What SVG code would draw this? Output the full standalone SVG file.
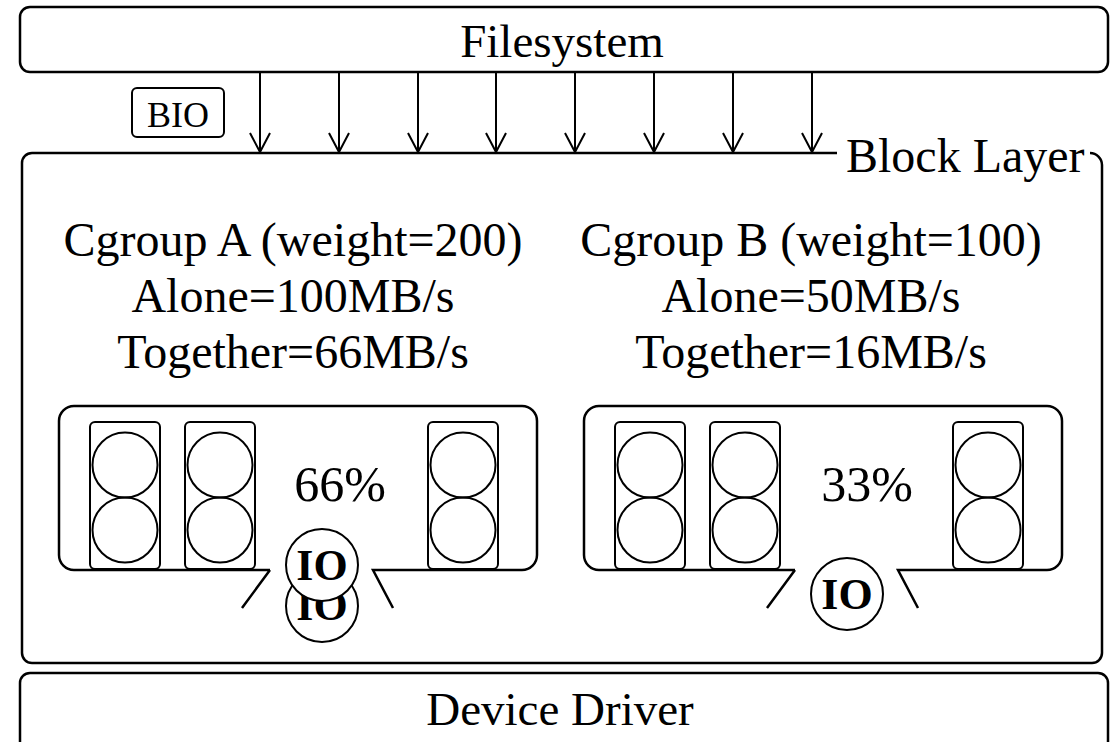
<svg xmlns="http://www.w3.org/2000/svg" width="1115" height="742" viewBox="0 0 1115 742">
<style>
text{font-family:"Liberation Serif","Times New Roman",serif;fill:#000}
.big{font-size:47px;text-anchor:middle}
.cg{font-size:48px;text-anchor:middle}
.pct{font-size:50px;text-anchor:middle}
.io{font-size:44px;font-weight:bold;text-anchor:middle}
.box{fill:none;stroke:#000;stroke-width:2.5}
.lane{fill:none;stroke:#000;stroke-width:2}
.c{fill:none;stroke:#000;stroke-width:2}
.ioc{fill:#fff;stroke:#000;stroke-width:2}
.arr{stroke:#000;stroke-width:2;fill:none;marker-end:url(#v)}
</style>
<defs>
<marker id="v" markerUnits="userSpaceOnUse" markerWidth="30" markerHeight="30" refX="0" refY="0" orient="auto" overflow="visible">
<path d="M -19 -10 L 0 0 L -19 10" fill="none" stroke="#000" stroke-width="2"/>
</marker>
<g id="lane">
<rect x="0" y="0" width="70" height="147" rx="5" class="lane"/>
<circle cx="35" cy="43" r="32.5" class="c"/>
<circle cx="35" cy="108" r="32.5" class="c"/>
</g>
</defs>
<g id="filesystem">
<rect x="20" y="7" width="1088" height="65" rx="10" class="box"/>
<text x="562" y="57" class="big">Filesystem</text>
</g>
<g id="bio">
<rect x="132" y="88" width="92" height="49" rx="5" class="lane"/>
<text x="178" y="127" style="font-size:36px;text-anchor:middle">BIO</text>
</g>
<g id="block-layer">
<path d="M 837 153 H 32 A 10 10 0 0 0 22 163 V 653 A 10 10 0 0 0 32 663 H 1092 A 10 10 0 0 0 1102 653 V 165 A 12 12 0 0 0 1090 153" class="box"/>
<text x="846" y="172" style="font-size:48px">Block Layer</text>
</g>
<g id="cgroup-a">
<text x="293" y="256" class="cg">Cgroup A (weight=200)</text>
<text x="293" y="312" class="cg">Alone=100MB/s</text>
<text x="293" y="368" class="cg">Together=66MB/s</text>
<path d="M 270 570 H 74 A 15 15 0 0 1 59 555 V 421 A 15 15 0 0 1 74 406 H 522 A 15 15 0 0 1 537 421 V 555 A 15 15 0 0 1 522 570 H 373 L 393 608 M 270 570 L 242 608" class="box"/>
<use href="#lane" x="90" y="422"/>
<use href="#lane" x="185" y="422"/>
<use href="#lane" x="428" y="422"/>
<text x="340" y="501" class="pct">66%</text>
<circle cx="322" cy="606" r="36" class="ioc"/>
<text x="322" y="620" class="io">IO</text>
<circle cx="322" cy="565" r="36" class="ioc"/>
<text x="322" y="580" class="io">IO</text>
</g>
<g id="cgroup-b">
<text x="811" y="256" class="cg">Cgroup B (weight=100)</text>
<text x="811" y="312" class="cg">Alone=50MB/s</text>
<text x="811" y="368" class="cg">Together=16MB/s</text>
<path d="M 795 570 H 599 A 15 15 0 0 1 584 555 V 421 A 15 15 0 0 1 599 406 H 1047 A 15 15 0 0 1 1062 421 V 555 A 15 15 0 0 1 1047 570 H 898 L 918 608 M 795 570 L 767 608" class="box"/>
<use href="#lane" x="615" y="422"/>
<use href="#lane" x="710" y="422"/>
<use href="#lane" x="953" y="422"/>
<text x="867" y="501" class="pct">33%</text>
<circle cx="847" cy="594" r="36" class="ioc"/>
<text x="847" y="609" class="io">IO</text>
</g>
<g id="device-driver">
<rect x="20" y="673" width="1088" height="80" rx="10" class="box"/>
<text x="560" y="725" class="big">Device Driver</text>
</g>
<g id="connectors">
<line x1="260" y1="72" x2="260" y2="152" class="arr"/>
<line x1="339" y1="72" x2="339" y2="152" class="arr"/>
<line x1="418" y1="72" x2="418" y2="152" class="arr"/>
<line x1="496" y1="72" x2="496" y2="152" class="arr"/>
<line x1="575" y1="72" x2="575" y2="152" class="arr"/>
<line x1="654" y1="72" x2="654" y2="152" class="arr"/>
<line x1="733" y1="72" x2="733" y2="152" class="arr"/>
<line x1="812" y1="72" x2="812" y2="152" class="arr"/>
</g>
</svg>
